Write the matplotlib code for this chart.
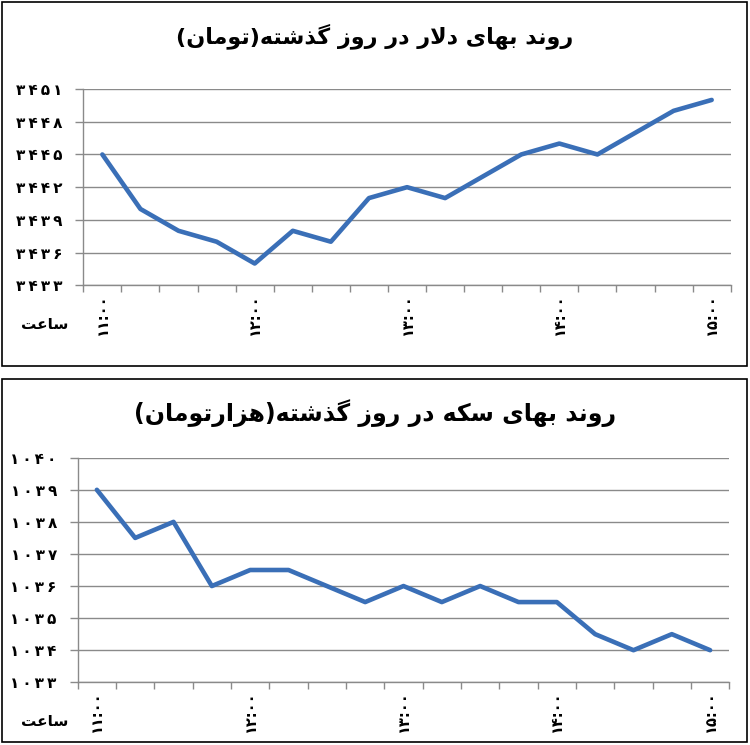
import numpy as np
import matplotlib
matplotlib.use("Agg")
import matplotlib.pyplot as plt
import matplotlib.patches as patches

# Datos (cada 15 minutos de ۱۱:۰۰ a ۱۵:۰۰)
times = ["۱۱:۰۰", "۱۱:۱۵", "۱۱:۳۰", "۱۱:۴۵",
         "۱۲:۰۰", "۱۲:۱۵", "۱۲:۳۰", "۱۲:۴۵",
         "۱۳:۰۰", "۱۳:۱۵", "۱۳:۳۰", "۱۳:۴۵",
         "۱۴:۰۰", "۱۴:۱۵", "۱۴:۳۰", "۱۴:۴۵",
         "۱۵:۰۰"]
dollar = [3445, 3440, 3438, 3437, 3435, 3438, 3437, 3441, 3442,
          3441, 3443, 3445, 3446, 3445, 3447, 3449, 3450]
coin = [1039, 1037.5, 1038, 1036, 1036.5, 1036.5, 1036, 1035.5, 1036,
        1035.5, 1036, 1035.5, 1035.5, 1034.5, 1034, 1034.5, 1034]
dollar_ticks = [3433, 3436, 3439, 3442, 3445, 3448, 3451]
coin_ticks = [1033, 1034, 1035, 1036, 1037, 1038, 1039, 1040]

title_dollar = "روند بهای دلار در روز گذشته(تومان)"
title_coin = "روند بهای سکه در روز گذشته(هزارتومان)"
hour_label = "ساعت"

LINE_COLOR = "#3a6fb7"
GRID_COLOR = "#8a8a8a"
THIN = "\u2009"

# Formas de presentacion: aislada, final, inicial, medial
FORMS = {
    'ا': ('\uFE8D', '\uFE8E', None, None),
    'ب': ('\uFE8F', '\uFE90', '\uFE91', '\uFE92'),
    'ت': ('\uFE95', '\uFE96', '\uFE97', '\uFE98'),
    'د': ('\uFEA9', '\uFEAA', None, None),
    'ذ': ('\uFEAB', '\uFEAC', None, None),
    'ر': ('\uFEAD', '\uFEAE', None, None),
    'ز': ('\uFEAF', '\uFEB0', None, None),
    'س': ('\uFEB1', '\uFEB2', '\uFEB3', '\uFEB4'),
    'ش': ('\uFEB5', '\uFEB6', '\uFEB7', '\uFEB8'),
    'ع': ('\uFEC9', '\uFECA', '\uFECB', '\uFECC'),
    'ل': ('\uFEDD', '\uFEDE', '\uFEDF', '\uFEE0'),
    'م': ('\uFEE1', '\uFEE2', '\uFEE3', '\uFEE4'),
    'ن': ('\uFEE5', '\uFEE6', '\uFEE7', '\uFEE8'),
    'ه': ('\uFEE9', '\uFEEA', '\uFEEB', '\uFEEC'),
    'و': ('\uFEED', '\uFEEE', None, None),
    'ی': ('\uFBFC', '\uFBFD', '\uFBFE', '\uFBFF'),
    'ک': ('\uFB8E', '\uFB8F', '\uFB90', '\uFB91'),
    'گ': ('\uFB92', '\uFB93', '\uFB94', '\uFB95'),
}


def farsi(text):
    """Da forma a las letras y las pone en orden visual (matplotlib no lo hace)."""
    chars = list(text)
    out = []
    i = 0
    while i < len(chars):
        c = chars[i]
        if c not in FORMS:
            out.append(c)
            i += 1
            continue
        prev = chars[i - 1] if i > 0 else ''
        joins_prev = prev in FORMS and FORMS[prev][2] is not None
        if c == 'ل' and i + 1 < len(chars) and chars[i + 1] == 'ا':
            out.append('\uFEFC' if joins_prev else '\uFEFB')
            i += 2
            continue
        nxt = chars[i + 1] if i + 1 < len(chars) else ''
        joins_next = FORMS[c][2] is not None and nxt in FORMS
        iso, fin, ini, med = FORMS[c]
        if joins_prev and joins_next:
            g = med
        elif joins_prev:
            g = fin
        elif joins_next:
            g = ini
        else:
            g = iso
        out.append(g)
        i += 1
    vis = ''.join(reversed(out))
    return vis.translate(str.maketrans('()', ')('))


def fa_digits(n):
    s = str(n).translate(str.maketrans('0123456789', '۰۱۲۳۴۵۶۷۸۹'))
    return THIN.join(s)


plt.rcParams['font.family'] = ['DejaVu Sans']

fig = plt.figure(figsize=(7.5, 7.45), dpi=100)


def draw_panel(rect, values, yticks):
    ax = fig.add_axes(rect)
    x = np.arange(len(values))
    ax.plot(x, values, color=LINE_COLOR, lw=3.3, solid_joinstyle='round',
            solid_capstyle='round', zorder=3)
    ax.set_xlim(-0.5, len(values) - 0.5)
    ax.set_ylim(yticks[0], yticks[-1])

    ax.set_yticks(yticks)
    ax.set_yticklabels([fa_digits(t) for t in yticks], fontsize=11, fontweight='bold')
    ax.yaxis.grid(True, color=GRID_COLOR, lw=1.0)
    ax.set_axisbelow(True)

    # marcas en los limites de categoria, etiquetas cada hora
    ax.set_xticks(np.arange(-0.5, len(values), 1.0))
    ax.set_xticklabels([])
    ax.set_xticks(x[::4], minor=True)
    ax.set_xticklabels(times[::4], minor=True, rotation=90, fontsize=10.5,
                       fontweight='bold')
    ax.tick_params(axis='x', which='major', length=5, color=GRID_COLOR, width=1)
    ax.tick_params(axis='x', which='minor', length=0, pad=6)
    ax.tick_params(axis='y', length=6, color=GRID_COLOR, width=1, pad=9)

    for s in ['top', 'right']:
        ax.spines[s].set_visible(False)
    for s in ['left', 'bottom']:
        ax.spines[s].set_color(GRID_COLOR)
        ax.spines[s].set_linewidth(1.0)
    return ax


ax1 = draw_panel([0.1111, 0.6170, 0.8632, 0.2635], dollar, dollar_ticks)
ax2 = draw_panel([0.1036, 0.0842, 0.8688, 0.3014], coin, coin_ticks)

# titulos y etiqueta de hora
fig.text(0.5, 1 - 36 / 745, farsi(title_dollar), ha='center', va='center',
         fontsize=16, fontweight='bold')
fig.text(0.5, 1 - 413 / 745, farsi(title_coin), ha='center', va='center',
         fontsize=17, fontweight='bold')
fig.text(45 / 750, 1 - 325 / 745, farsi(hour_label), ha='center', va='center',
         fontsize=11, fontweight='bold')
fig.text(45 / 750, 1 - 722 / 745, farsi(hour_label), ha='center', va='center',
         fontsize=11, fontweight='bold')

# marcos de cada grafico
fig.add_artist(patches.Rectangle((1.5 / 750, 1 - 366 / 745), 745.5 / 750, 364.5 / 745,
                                 transform=fig.transFigure, fill=False,
                                 edgecolor='black', lw=1.2))
fig.add_artist(patches.Rectangle((1.5 / 750, 1 - 742 / 745), 745.5 / 750, 363.5 / 745,
                                 transform=fig.transFigure, fill=False,
                                 edgecolor='black', lw=1.2))

fig.savefig("out.png", dpi=100)
